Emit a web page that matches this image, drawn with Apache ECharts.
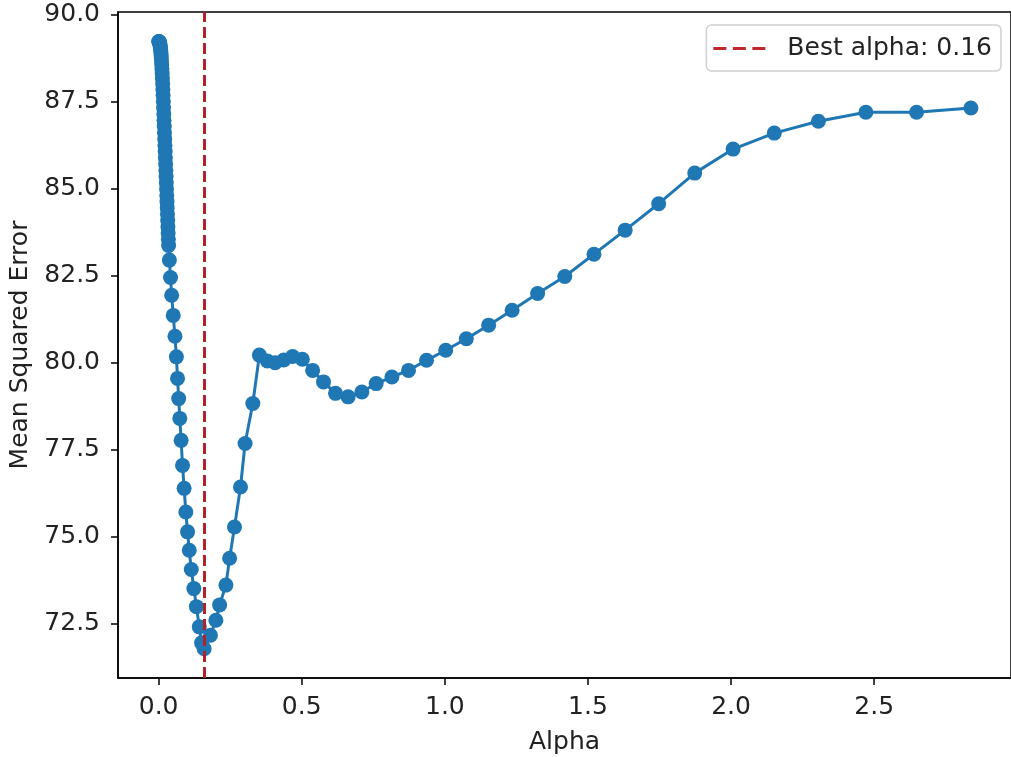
<!DOCTYPE html>
<html>
<head>
<meta charset="utf-8">
<script src="https://cdn.jsdelivr.net/npm/echarts@6/dist/echarts.min.js"></script>
<style>
  html, body { margin: 0; padding: 0; background: #fff; }
  #chart { width: 1011px; height: 757px; }
</style>
</head>
<body>
<div id="chart"></div>
<script>
// alpha values (x) and cross-validated MSE (y)
var alphas = [
  0.0005, 0.0012, 0.0020, 0.0028, 0.0036, 0.0044, 0.0052, 0.0060, 0.0068, 0.0076,
  0.0084, 0.0092, 0.0100, 0.0108, 0.0116, 0.0124, 0.0132, 0.0140, 0.0148, 0.0156,
  0.0164, 0.0172, 0.0180, 0.0188, 0.0196, 0.0204, 0.0212, 0.0220, 0.0228, 0.0236,
  0.0244, 0.0252, 0.0260, 0.0268, 0.0276, 0.0284, 0.0292, 0.0300, 0.0308, 0.0316,
  0.0324, 0.0332, 0.0340, 0.0348, 0.0375, 0.0415, 0.0455, 0.0510, 0.0570, 0.0620,
  0.0660, 0.0700, 0.0740, 0.0785, 0.0835, 0.0890, 0.0950, 0.1010, 0.1070, 0.1140,
  0.1230, 0.1320, 0.1420, 0.1500, 0.1590, 0.181, 0.200, 0.213, 0.235, 0.248,
  0.265, 0.286, 0.302, 0.329, 0.352, 0.380, 0.407, 0.437, 0.468, 0.502,
  0.538, 0.576, 0.618, 0.662, 0.710, 0.760, 0.815, 0.873, 0.936, 1.003,
  1.075, 1.153, 1.235, 1.324, 1.419, 1.521, 1.630, 1.747, 1.873, 2.007,
  2.151, 2.305, 2.471, 2.648, 2.838
];
var mse = [
  89.23, 89.23, 89.22, 89.21, 89.19, 89.16, 89.12, 89.07, 89.01, 88.94,
  88.86, 88.77, 88.67, 88.56, 88.44, 88.31, 88.17, 88.02, 87.86, 87.69,
  87.51, 87.33, 87.15, 86.97, 86.79, 86.61, 86.43, 86.25, 86.07, 85.89,
  85.71, 85.53, 85.35, 85.17, 84.99, 84.81, 84.63, 84.45, 84.27, 84.09,
  83.91, 83.73, 83.55, 83.37, 82.95, 82.45, 81.94, 81.36, 80.76, 80.17,
  79.55, 78.97, 78.40, 77.77, 77.05, 76.39, 75.71, 75.14, 74.61, 74.06,
  73.51, 72.99, 72.41, 71.95, 71.78, 72.17, 72.60, 73.04, 73.61, 74.38,
  75.28, 76.43, 77.68, 78.83, 80.22, 80.05, 80.00, 80.08, 80.18, 80.10,
  79.78, 79.45, 79.12, 79.02, 79.16, 79.40, 79.59, 79.78, 80.07, 80.36,
  80.69, 81.08, 81.51, 81.99, 82.48, 83.12, 83.81, 84.57, 85.45, 86.14,
  86.60, 86.94, 87.20, 87.20, 87.32
];
var bestAlpha = 0.16;
var bestLabel = 'Best alpha: 0.16';
var xTicks = [0, 0.5, 1.0, 1.5, 2.0, 2.5];
var yTicks = [72.5, 75.0, 77.5, 80.0, 82.5, 85.0, 87.5, 90.0];

var chart = echarts.init(document.getElementById('chart'));

var points = [];
for (var i = 0; i < alphas.length; i++) {
  points.push([alphas[i], mse[i]]);
}

var font = 'DejaVu Sans';
var fontSize = 25;
var textColor = '#222';

option = {
  animation: false,
  backgroundColor: '#fff',
  grid: {
    left: 118,
    right: 0,
    top: 12,
    bottom: 79,
    containLabel: false,
    outerBoundsMode: 'none',
    show: true,
    borderColor: '#000',
    borderWidth: 1.5,
    backgroundColor: 'transparent'
  },
  legend: {
    data: [{
      name: bestLabel,
      icon: 'path://M0,0h13v3h-13z M19.5,0h13v3h-13z M39,0h13v3h-13z'
    }],
    right: 10,
    top: 25,
    padding: [11, 9, 10, 7],
    itemWidth: 52,
    itemHeight: 14,
    backgroundColor: '#fff',
    borderColor: '#d0d0d0',
    borderWidth: 1.5,
    borderRadius: 5,
    textStyle: {
      fontFamily: font,
      fontSize: fontSize,
      color: textColor,
      padding: [0, 0, 0, 17]
    }
  },
  xAxis: {
    type: 'value',
    min: -0.142,
    max: 2.978,
    name: 'Alpha',
    nameLocation: 'middle',
    nameGap: 52,
    nameTextStyle: { fontFamily: font, fontSize: fontSize, color: textColor },
    axisLine: { show: true, onZero: false, lineStyle: { color: '#000', width: 1.5 } },
    axisTick: {
      show: true, inside: false, length: 7,
      customValues: xTicks,
      lineStyle: { color: '#000', width: 1.5 }
    },
    axisLabel: {
      show: true, margin: 17,
      customValues: xTicks,
      fontFamily: font, fontSize: fontSize, color: textColor,
      formatter: function (v) { return v.toFixed(1); }
    },
    splitLine: { show: false }
  },
  yAxis: {
    type: 'value',
    min: 70.94,
    max: 90.08,
    name: 'Mean Squared Error',
    nameLocation: 'middle',
    nameRotate: 90,
    nameGap: 83,
    nameTextStyle: { fontFamily: font, fontSize: fontSize, color: textColor },
    axisLine: { show: true, onZero: false, lineStyle: { color: '#000', width: 1.5 } },
    axisTick: {
      show: true, inside: false, length: 7,
      customValues: yTicks,
      lineStyle: { color: '#000', width: 1.5 }
    },
    axisLabel: {
      show: true, margin: 18,
      customValues: yTicks,
      fontFamily: font, fontSize: fontSize, color: textColor,
      formatter: function (v) { return v.toFixed(1); }
    },
    splitLine: { show: false }
  },
  series: [
    {
      name: 'MSE',
      type: 'line',
      data: points,
      symbol: 'circle',
      symbolSize: 15,
      showSymbol: true,
      lineStyle: { color: '#1f77b4', width: 3 },
      itemStyle: { color: '#1f77b4' },
      z: 3
    },
    {
      name: bestLabel,
      type: 'line',
      data: [],
      symbol: 'none',
      lineStyle: { color: '#c0282d', width: 3, type: [11, 5] },
      itemStyle: { color: '#c0282d' },
      markLine: {
        silent: true,
        symbol: 'none',
        label: { show: false },
        lineStyle: { color: '#b32229', width: 3, type: [11, 5] },
        data: [{ xAxis: bestAlpha }]
      },
      z: 4
    }
  ]
};

chart.setOption(option);
</script>
</body>
</html>
